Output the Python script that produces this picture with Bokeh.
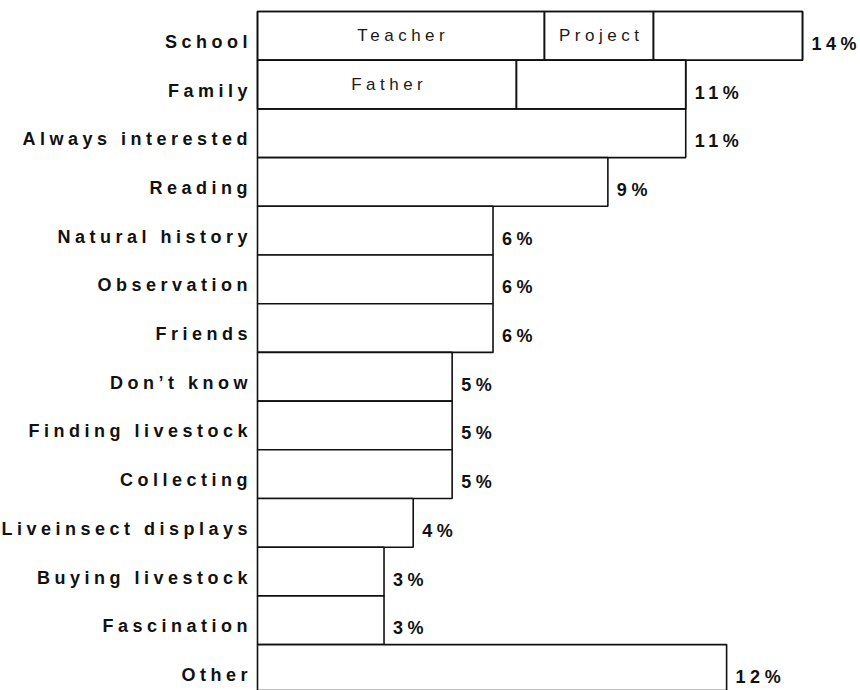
from bokeh.plotting import figure
from bokeh.models import ColumnDataSource, Range1d, InlineStyleSheet
from bokeh.embed import file_html
from bokeh.resources import INLINE
from bokeh.core.properties import value

# ---- data ----
categories = ["School", "Family", "Always interested", "Reading", "Natural history",
              "Observation", "Friends", "Don’t know", "Finding livestock", "Collecting",
              "Liveinsect displays", "Buying livestock", "Fascination", "Other"]
values = [14.0, 11.0, 11.0, 9.0, 6.05, 6.05, 6.05, 5.0, 5.0, 5.0, 4.0, 3.25, 3.25, 12.05]
pct_labels = ["14%", "11%", "11%", "9%", "6%", "6%", "6%", "5%", "5%", "5%",
              "4%", "3%", "3%", "12%"]
seg_category = ["School", "School", "School", "Family", "Family"]
seg_size = [7.37, 2.8, 3.83, 6.65, 4.35]
seg_labels = ["Teacher", "Project", "", "Father", ""]

# ---- layout constants ----
LS = 4.5          # letter spacing (px)
FONT = "Liberation Sans"
W, H = 860, 690
ORIGIN_X = 257      # screen x of value 0
ORIGIN_Y = 11       # screen y of top of first bar
PX_PER_UNIT = 38.93
PITCH = 48.7

ypos = list(range(len(categories)))
bars = ColumnDataSource(dict(y=ypos, v=values, lab=pct_labels, cat=categories,
                             catoff=[-10 - (len(c) - 1) * LS for c in categories]))

# segments
seg_left, seg_right, seg_y = [], [], []
acc = {}
for c, s in zip(seg_category, seg_size):
    start = acc.get(c, 0.0)
    seg_left.append(start)
    seg_right.append(start + s)
    seg_y.append(categories.index(c))
    acc[c] = start + s
segs = ColumnDataSource(dict(y=seg_y, l=seg_left, r=seg_right,
                             mid=[(a + b) / 2 for a, b in zip(seg_left, seg_right)],
                             lab=seg_labels,
                             off=[-(max(len(t) - 1, 0)) * LS / 2 for t in seg_labels]))

x_start = -ORIGIN_X / PX_PER_UNIT
y_end = -0.5 - ORIGIN_Y / PITCH
p = figure(width=W, height=H, output_backend="svg", toolbar_location=None,
           x_axis_type=None, y_axis_type=None,
           x_range=Range1d(x_start, x_start + W / PX_PER_UNIT),
           y_range=Range1d(y_end + H / PITCH, y_end),
           min_border_left=0, min_border_right=0, min_border_top=0, min_border_bottom=0)
p.outline_line_color = None
p.xgrid.visible = False
p.ygrid.visible = False
p.background_fill_color = "white"
p.border_fill_color = "white"
p.stylesheets = [InlineStyleSheet(css=":host { letter-spacing: %spx; }" % LS)]

p.hbar(y="y", left=0, right="v", height=1, source=bars,
       fill_color="white", line_color="#111111", line_width=1.6)
p.hbar(y="y", left="l", right="r", height=1, source=segs,
       fill_color=None, line_color="#111111", line_width=1.6)

p.text(x="mid", y="y", text="lab", source=segs, x_offset="off", y_offset=0,
       text_align="center", text_baseline="middle", text_font=value(FONT),
       text_font_size="17px", text_color="#1a1a1a")

p.text(x="v", y="y", text="lab", source=bars, x_offset=9, y_offset=8,
       text_align="left", text_baseline="middle", text_font=value(FONT),
       text_font_size="18px", text_font_style="bold", text_color="#111111")

p.text(x=0, y="y", text="cat", source=bars, x_offset="catoff", y_offset=6,
       text_align="right", text_baseline="middle", text_font=value(FONT),
       text_font_size="18px", text_font_style="bold", text_color="#111111")

open("out.html", "w").write(file_html(p, INLINE))
